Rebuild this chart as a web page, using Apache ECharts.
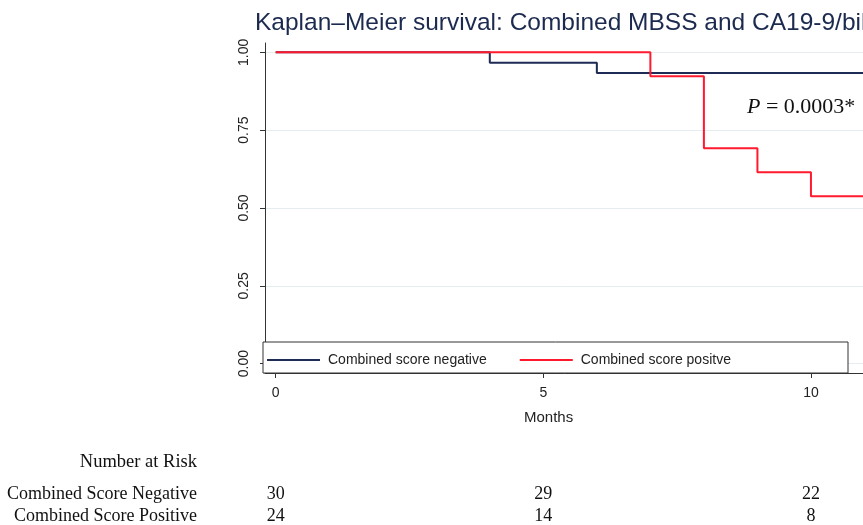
<!DOCTYPE html>
<html>
<head>
<meta charset="utf-8">
<title>Kaplan–Meier survival</title>
<script src="https://cdn.jsdelivr.net/npm/echarts@6/dist/echarts.min.js"></script>
<style>
  html, body { margin: 0; padding: 0; background: #fff; }
  #chart { width: 863px; height: 525px; }
</style>
</head>
<body>
<div id="chart"></div>
<script>
// survival steps: [months, survival]
var negSteps = [[0, 1], [4, 0.9667], [6, 0.9333], [12, 0.9333]];
var posSteps = [[0, 1], [7, 0.923], [8, 0.692], [9, 0.615], [10, 0.538], [12, 0.538]];
var monthTicks = [0, 5, 10];
var survTicks = [0, 0.25, 0.5, 0.75, 1];
// number at risk at the month ticks
var riskNeg = [30, 29, 22];
var riskPos = [24, 14, 8];

var navy = '#1d2b55';
var red = '#ff1a2e';
var sans = 'Liberation Sans, Arial, sans-serif';
var serif = 'Liberation Serif, Times New Roman, serif';

function riskAxis(name, values, offset) {
  return {
    type: 'value', min: -0.2, max: 12, position: 'bottom', offset: offset,
    axisLine: { show: false, onZero: false }, axisTick: { show: false }, splitLine: { show: false },
    name: name, nameLocation: 'start', nameGap: 68,
    nameTextStyle: { fontFamily: serif, fontSize: 18, color: '#111' },
    axisLabel: {
      customValues: monthTicks, margin: 0, verticalAlign: 'middle',
      fontFamily: serif, fontSize: 18, color: '#111',
      formatter: function (v) { return values[monthTicks.indexOf(v)]; }
    }
  };
}

var chart = echarts.init(document.getElementById('chart'));
chart.setOption({
  animation: false,
  backgroundColor: '#fff',
  title: {
    text: 'Kaplan–Meier survival: Combined MBSS and CA19-9/bilirubin ratio',
    left: 250, top: 6,
    textStyle: { fontFamily: sans, fontSize: 24.5, fontWeight: 'normal', color: '#1b2a4e' }
  },
  grid: { left: 265, top: 43, width: 653, height: 330, outerBoundsMode: 'none' },
  xAxis: [{
    type: 'value', min: -0.2, max: 12,
    axisLine: { onZero: false, lineStyle: { color: '#333', width: 1 } },
    axisTick: { customValues: monthTicks, length: 5, lineStyle: { color: '#333' } },
    axisLabel: { customValues: monthTicks, margin: 13, fontFamily: sans, fontSize: 14, color: '#222' },
    splitLine: { show: false }
  },
    riskAxis('Combined Score Negative', riskNeg, 121),
    riskAxis('Combined Score Positive', riskPos, 143)
  ],
  yAxis: {
    type: 'value', min: -0.03, max: 1.03,
    axisLine: { show: true, onZero: false, lineStyle: { color: '#333', width: 1 } },
    axisTick: { show: true, customValues: survTicks, length: 5, lineStyle: { color: '#333' } },
    axisLabel: {
      customValues: survTicks, rotate: 90, margin: 14,
      fontFamily: sans, fontSize: 14, color: '#222',
      formatter: function (v) { return v.toFixed(2); }
    },
    splitLine: { show: true, lineStyle: { color: '#e6edf1', width: 1 } }
  },
  legend: {
    left: 267, top: 352, padding: 0, itemGap: 33,
    itemWidth: 53, itemHeight: 2, icon: 'rect', z: 100,
    textStyle: { fontFamily: sans, fontSize: 14, color: '#222', lineHeight: 16, padding: [0, 0, 0, 3] },
    data: ['Combined score negative', 'Combined score positve']
  },
  graphic: [
    {
      type: 'rect', z: 50,
      shape: { x: 263, y: 342, width: 585, height: 31 },
      style: { fill: '#fff', stroke: '#333', lineWidth: 1 }
    },
    {
      type: 'text', left: 524, top: 410,
      style: { text: 'Months', fontFamily: sans, fontSize: 15, fill: '#222' }
    },
    {
      type: 'text', right: 666, top: 453,
      style: { text: 'Number at Risk', fontFamily: serif, fontSize: 18.5, fill: '#111' }
    },
    {
      type: 'text', left: 747, top: 96,
      style: {
        text: '{i|P} = 0.0003*',
        fontFamily: serif, fontSize: 22, fill: '#111',
        rich: { i: { fontFamily: serif, fontSize: 22, fontStyle: 'italic', fill: '#111' } }
      }
    }
  ],
  series: [
    {
      name: 'Combined score negative', type: 'line', step: 'end', symbol: 'none',
      lineStyle: { color: navy, width: 2 }, itemStyle: { color: navy },
      data: negSteps
    },
    {
      name: 'Combined score positve', type: 'line', step: 'end', symbol: 'none',
      lineStyle: { color: red, width: 2 }, itemStyle: { color: red },
      data: posSteps
    }
  ]
});
</script>
</body>
</html>
